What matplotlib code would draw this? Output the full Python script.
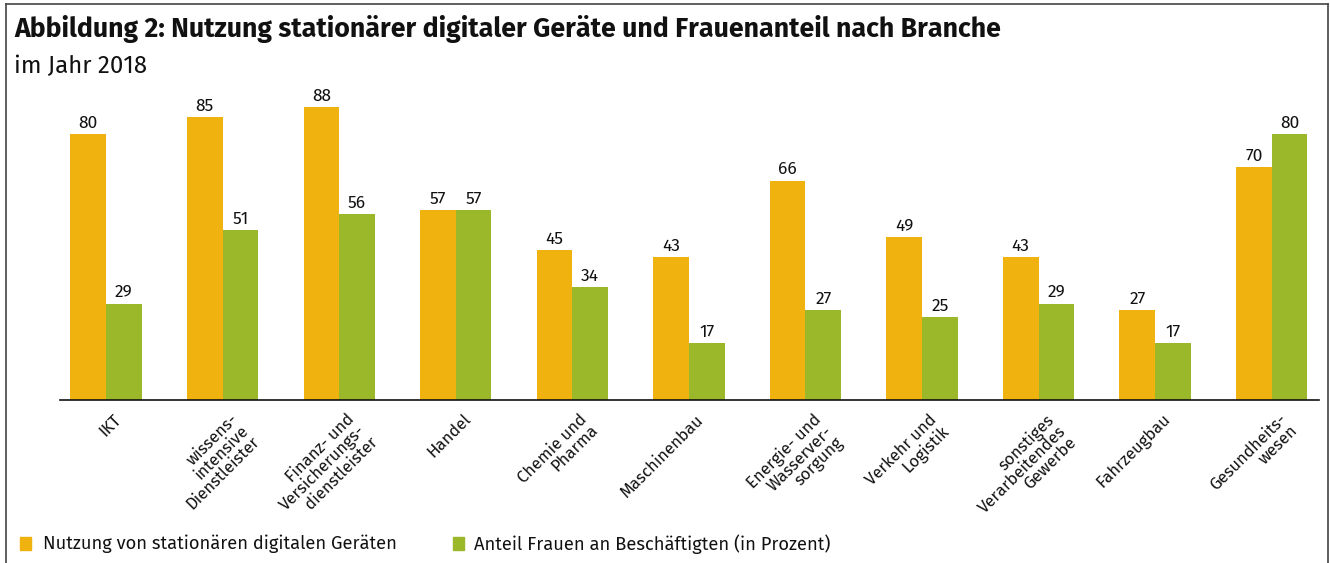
import matplotlib
matplotlib.use("Agg")
import matplotlib.pyplot as plt
from matplotlib.lines import Line2D
from matplotlib.patches import Rectangle
import numpy as np

categories = [
    "IKT",
    "wissens-\nintensive\nDienstleister",
    "Finanz- und\nVersicherungs-\ndienstleister",
    "Handel",
    "Chemie und\nPharma",
    "Maschinenbau",
    "Energie- und\nWasserver-\nsorgung",
    "Verkehr und\nLogistik",
    "sonstiges\nVerarbeitendes\nGewerbe",
    "Fahrzeugbau",
    "Gesundheits-\nwesen",
]
nutzung = [80, 85, 88, 57, 45, 43, 66, 49, 43, 27, 70]
frauen = [29, 51, 56, 57, 34, 17, 27, 25, 29, 17, 80]
series_names = ["Nutzung von stationären digitalen Geräten",
                "Anteil Frauen an Beschäftigten (in Prozent)"]
title = "Abbildung 2: Nutzung stationärer digitaler Geräte und Frauenanteil nach Branche"
subtitle = "im Jahr 2018"

ORANGE = "#F0B20E"
GREEN = "#9BB72A"
FONT = ["Fira Sans", "DejaVu Sans"]

W, H = 1330, 563
fig = plt.figure(figsize=(W / 100, H / 100), dpi=100)

# frame (top, left, right)
for xs, ys in [((6 / W, 1328 / W), (1 - 4 / H, 1 - 4 / H)),
               ((6 / W, 6 / W), (0, 1 - 4 / H)),
               ((1328 / W, 1328 / W), (0, 1 - 4 / H))]:
    fig.add_artist(Line2D(xs, ys, color="#444444", lw=1.2, transform=fig.transFigure))

fig.text(14 / W, 1 - 29 / H, title, family=FONT, weight="bold", fontsize=19.2,
         ha="left", va="center", color="#111111")
fig.text(14 / W, 1 - 66 / H, subtitle, family=FONT, fontsize=17.3,
         ha="left", va="center", color="#111111")

ax = fig.add_axes([60 / W, 1 - 400 / H, 1259 / W, 300 / H])
x = np.arange(len(categories))
bw = 0.306
b1 = ax.bar(x - bw / 2, nutzung, bw, color=ORANGE, label=series_names[0])
b2 = ax.bar(x + bw / 2, frauen, bw, color=GREEN, label=series_names[1])
ax.set_xlim(-0.395, 10.406)
ax.set_ylim(0, 90.23)
for s in ["top", "right", "left"]:
    ax.spines[s].set_visible(False)
ax.spines["bottom"].set_linewidth(1.2)
ax.spines["bottom"].set_color("#111111")
ax.set_yticks([])
ax.set_xticks([])

for bars, vals in [(b1, nutzung), (b2, frauen)]:
    for r, v in zip(bars, vals):
        ax.annotate(f"{v}", (r.get_x() + r.get_width() / 2, v), xytext=(0, 2),
                    textcoords="offset points", ha="center", va="bottom",
                    family=FONT, fontsize=12.5, color="#111111")

for i, c in enumerate(categories):
    ax.annotate(c, (i, 0), xytext=(5, -8), textcoords="offset points",
                rotation=45, rotation_mode="anchor", ha="right", va="top",
                multialignment="right", family=FONT, fontsize=12,
                color="#111111", linespacing=0.95)

# legend
for lx, tx, col, name in [(20, 43, ORANGE, series_names[0]), (453, 474, GREEN, series_names[1])]:
    fig.add_artist(Rectangle((lx / W, 1 - 550 / H), 11 / W, 13 / H, color=col,
                             transform=fig.transFigure))
    fig.text(tx / W, 1 - 544 / H, name, family=FONT, fontsize=13.2,
             ha="left", va="center", color="#111111")

fig.savefig("out.png", dpi=100)
